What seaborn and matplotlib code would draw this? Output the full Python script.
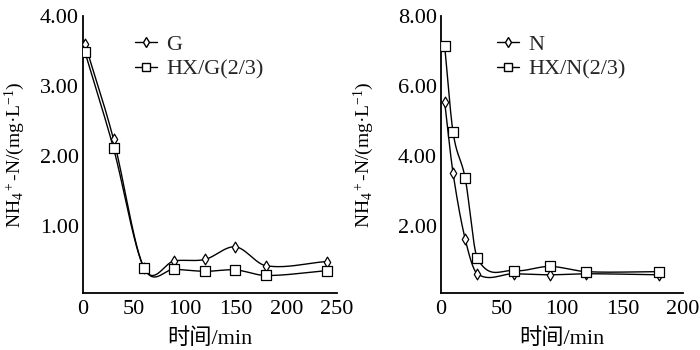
import numpy as np
import pandas as pd
import matplotlib
matplotlib.use("Agg")
import matplotlib.pyplot as plt
from matplotlib.lines import Line2D
import seaborn as sns

# ---- data ----
left_x = [2, 30, 60, 90, 120, 150, 180, 240]
left_G = [3.60, 2.24, 0.40, 0.50, 0.52, 0.70, 0.43, 0.49]
left_HXG = [3.48, 2.11, 0.40, 0.38, 0.35, 0.37, 0.29, 0.36]

right_x = [3, 10, 20, 30, 60, 90, 120, 180]
right_N = [5.55, 3.50, 1.62, 0.63, 0.63, 0.60, 0.63, 0.60]
right_HXN = [7.15, 4.67, 3.36, 1.08, 0.72, 0.84, 0.69, 0.69]

left_labels = ["G", "HX/G(2/3)"]
right_labels = ["N", "HX/N(2/3)"]
left_yticks = [1.0, 2.0, 3.0, 4.0]
right_yticks = [2.0, 4.0, 6.0, 8.0]
left_xticks = [0, 50, 100, 150, 200, 250]
right_xticks = [0, 50, 100, 150, 200]

sns.set_theme(style="white")
plt.rcParams["font.family"] = ["Liberation Serif", "Noto Sans CJK SC"]
plt.rcParams["mathtext.fontset"] = "custom"
plt.rcParams["mathtext.rm"] = "Liberation Serif"
plt.rcParams["mathtext.it"] = "Liberation Serif:italic"
plt.rcParams["mathtext.bf"] = "Liberation Serif:bold"


def smooth_curve(x, y, per_seg=60):
    """Catmull-Rom style Hermite curve through the data (spline connection)."""
    x = np.asarray(x, float)
    y = np.asarray(y, float)
    m = len(x)
    t = np.zeros(m)
    t[1:-1] = (y[2:] - y[:-2]) / (x[2:] - x[:-2])
    t[0] = (y[1] - y[0]) / (x[1] - x[0])
    t[-1] = (y[-1] - y[-2]) / (x[-1] - x[-2])
    xs_all, ys_all = [], []
    for i in range(m - 1):
        h = x[i + 1] - x[i]
        s = np.linspace(0, 1, per_seg, endpoint=(i == m - 2))
        h00 = 2 * s**3 - 3 * s**2 + 1
        h10 = s**3 - 2 * s**2 + s
        h01 = -2 * s**3 + 3 * s**2
        h11 = s**3 - s**2
        xs_all.append(x[i] + s * h)
        ys_all.append(h00 * y[i] + h10 * h * t[i] + h01 * y[i + 1] + h11 * h * t[i + 1])
    return np.concatenate(xs_all), np.concatenate(ys_all)


fig = plt.figure(figsize=(7, 3.5), dpi=100)
ax1 = fig.add_axes([0.1186, 0.1629, 0.3629, 0.7914])
ax2 = fig.add_axes([0.63, 0.1629, 0.3457, 0.7914])

FS = 16
ylabel = r"NH$_4$$^+$-N/(mg·L$^{-1}$)"


def draw(ax, x, s1, s2, labels, xticks, yticks, xlim, ylim, anchor):
    for vals, mk, ms in [(s1, "d", 30), (s2, "s", 42)]:
        xs, ys = smooth_curve(x, vals)
        sns.lineplot(x=xs, y=ys, ax=ax, color="black", linewidth=1.0,
                     estimator=None, sort=False, legend=False)
        sns.scatterplot(x=x, y=vals, ax=ax, marker=mk, s=ms, facecolor="white",
                        edgecolor="black", linewidth=0.9, legend=False, zorder=3)
    ax.set_xlim(*xlim)
    ax.set_ylim(*ylim)
    ax.set_xticks(xticks)
    ax.set_xticklabels([str(v) for v in xticks])
    ax.set_yticks(yticks)
    ax.set_yticklabels([f"{v:.2f}" for v in yticks])
    for side in ["top", "right"]:
        ax.spines[side].set_visible(False)
    for side in ["left", "bottom"]:
        ax.spines[side].set_color("black")
        ax.spines[side].set_linewidth(1.3)
    ax.tick_params(axis="both", direction="in", length=5, width=1.1,
                   labelsize=FS, colors="black")
    ax.tick_params(axis="y", pad=3)
    ax.tick_params(axis="x", pad=5)
    ax.set_xlabel("时间/min", fontsize=FS, labelpad=7, color="black")
    ax.set_ylabel(ylabel, fontsize=14, color="black")
    handles = [
        Line2D([], [], color="black", lw=1.0, marker="d", markersize=5,
               markerfacecolor="white", markeredgecolor="black"),
        Line2D([], [], color="black", lw=1.0, marker="s", markersize=6,
               markerfacecolor="white", markeredgecolor="black"),
    ]
    ax.legend(handles, labels, loc="upper left", bbox_to_anchor=anchor,
              frameon=False, fontsize=FS, handlelength=1.0,
              handletextpad=0.4, labelspacing=0.2, borderpad=0,
              borderaxespad=0)


draw(ax1, left_x, left_G, left_HXG, left_labels, left_xticks, left_yticks,
     (0, 250), (0.04, 4.0), (0.205, 0.935))
draw(ax2, right_x, right_N, right_HXN, right_labels, right_xticks, right_yticks,
     (0, 200), (0.08, 8.0), (0.231, 0.935))

ax1.yaxis.set_label_coords(-0.222, 0.5)
ax2.yaxis.set_label_coords(-0.27, 0.5)

fig.savefig("out.png", dpi=100, facecolor="white")
